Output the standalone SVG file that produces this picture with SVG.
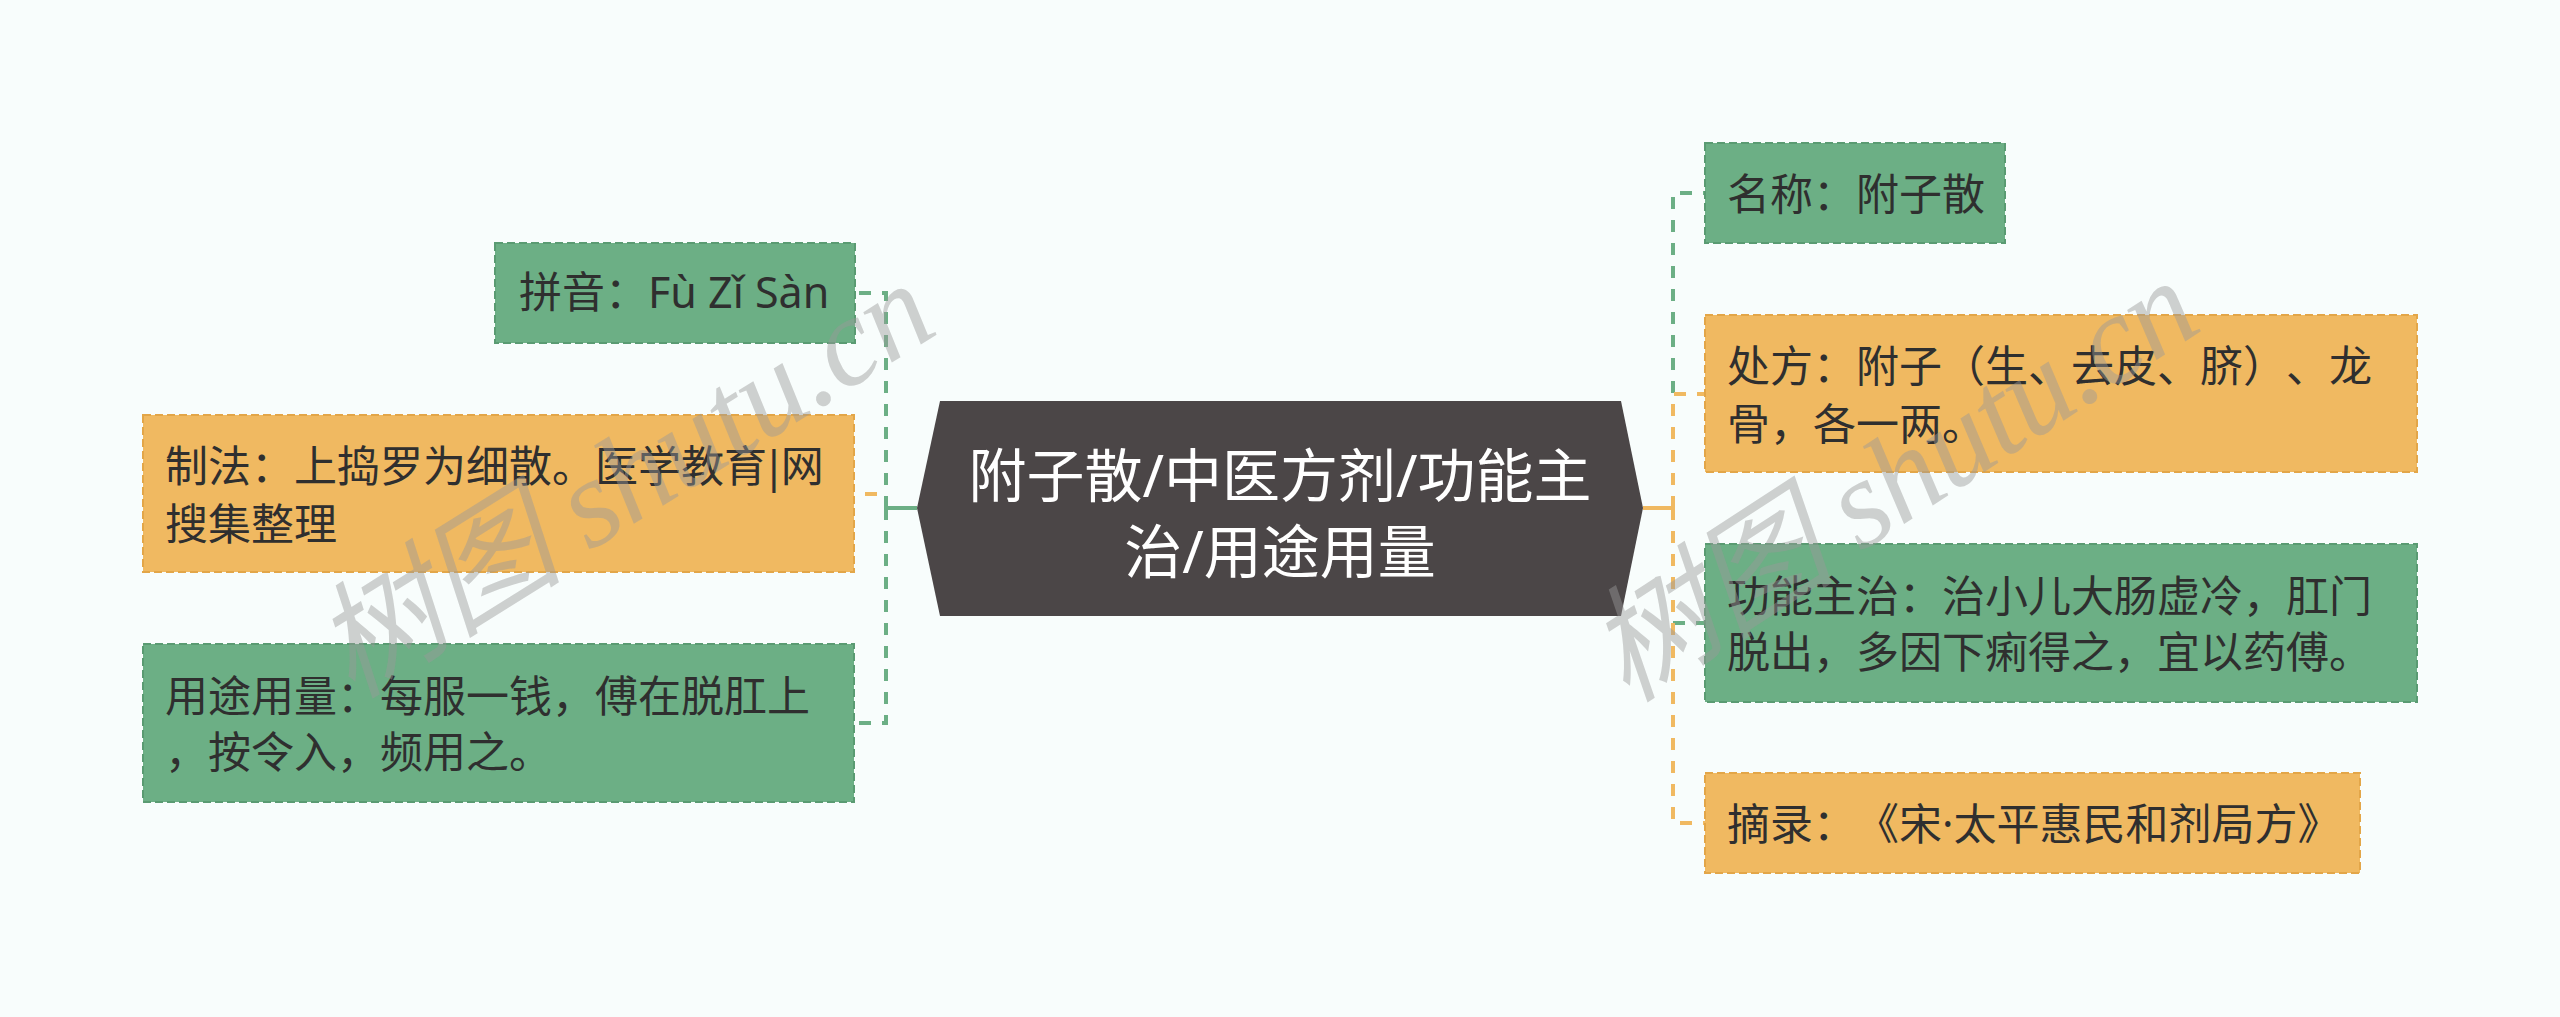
<svg xmlns="http://www.w3.org/2000/svg" width="2560" height="1017" viewBox="0 0 2560 1017">
<style>
.bg{fill:#f8fdfc}
.g{fill:#6caf85;stroke:#5a9b72;stroke-width:2;stroke-dasharray:8 4}
.o{fill:#f0b961;stroke:#e3a648;stroke-width:2;stroke-dasharray:8 4}
text{text-spacing-trim:space-all;font-kerning:none}
.t{font-family:"Noto Sans","Noto Sans CJK SC",sans-serif;font-size:43px;fill:#2f2f2f}
.ct{font-family:"Noto Sans","Noto Sans CJK SC",sans-serif;font-size:58px;fill:#ffffff;text-anchor:middle}
.cg{fill:none;stroke:#6caf85;stroke-width:4}
.co{fill:none;stroke:#f0b961;stroke-width:4}
.d{stroke-dasharray:12 11}
.wm{font-family:"Liberation Serif","Noto Sans CJK SC",serif;font-style:italic;font-size:126px;fill:#9a9a9a;fill-opacity:0.45}
</style>
<rect class="bg" x="0" y="0" width="2560" height="1017"/>
<g id="connectors">
  <path class="co d" d="M886 508 V494 H854"/>
  <path class="cg d" d="M886 508 V293 H855"/>
  <path class="cg d" d="M886 508 V723 H854"/>
  <path class="cg" d="M917 508 H886 M886 496 V520"/>
  <path class="cg d" d="M1673 508 V193 H1705"/>
  <path class="cg d" d="M1673 508 V623 H1705"/>
  <path class="co d" d="M1673 508 V394 H1705"/>
  <path class="co d" d="M1673 508 V823 H1705"/>
  <path class="co" d="M1643 508 H1673 M1673 496 V520"/>
</g>
<g id="center">
  <polygon points="917,508 940,401 1621,401 1643,508 1621,616 940,616" fill="#4b4647"/>
  <text class="ct" x="1280" y="497">附子散/中医方剂/功能主</text>
  <text class="ct" x="1280" y="573">治/用途用量</text>
</g>
<g id="pinyin">
  <rect class="g" x="495" y="243" width="360" height="100"/>
  <text class="t" x="519" y="308">拼音：Fù Zǐ Sàn</text>
</g>
<g id="zhifa">
  <rect class="o" x="143" y="415" width="711" height="157"/>
  <text class="t" x="165" y="482">制法：上捣罗为细散。医学教育<tspan dx="-5">|</tspan><tspan dx="-5">网</tspan></text>
  <text class="t" x="165" y="540">搜集整理</text>
</g>
<g id="yongtu">
  <rect class="g" x="143" y="644" width="711" height="158"/>
  <text class="t" x="165" y="712">用途用量：每服一钱，傅在脱肛上</text>
  <text class="t" x="165" y="768">，按令入，频用之。</text>
</g>
<g id="mingcheng">
  <rect class="g" x="1705" y="143" width="300" height="100"/>
  <text class="t" x="1727" y="210">名称：附子散</text>
</g>
<g id="chufang">
  <rect class="o" x="1705" y="315" width="712" height="157"/>
  <text class="t" x="1727" y="382">处方：附子（生、去皮、脐）、龙</text>
  <text class="t" x="1727" y="440">骨，各一两。</text>
</g>
<g id="gongneng">
  <rect class="g" x="1705" y="544" width="712" height="158"/>
  <text class="t" x="1727" y="612">功能主治：治小儿大肠虚冷，肛门</text>
  <text class="t" x="1727" y="668">脱出，多因下痢得之，宜以药傅。</text>
</g>
<g id="zhailu">
  <rect class="o" x="1705" y="773" width="655" height="100"/>
  <text class="t" x="1727" y="840">摘录：《宋·太平惠民和剂局方》</text>
</g>
<g id="watermark">
  <text class="wm" transform="translate(352 700) rotate(-32)" textLength="695" lengthAdjust="spacing">树图 shutu.cn</text>
  <text class="wm" transform="translate(1627 704) rotate(-33)" textLength="690" lengthAdjust="spacing">树图 shutu.cn</text>
</g>
</svg>
